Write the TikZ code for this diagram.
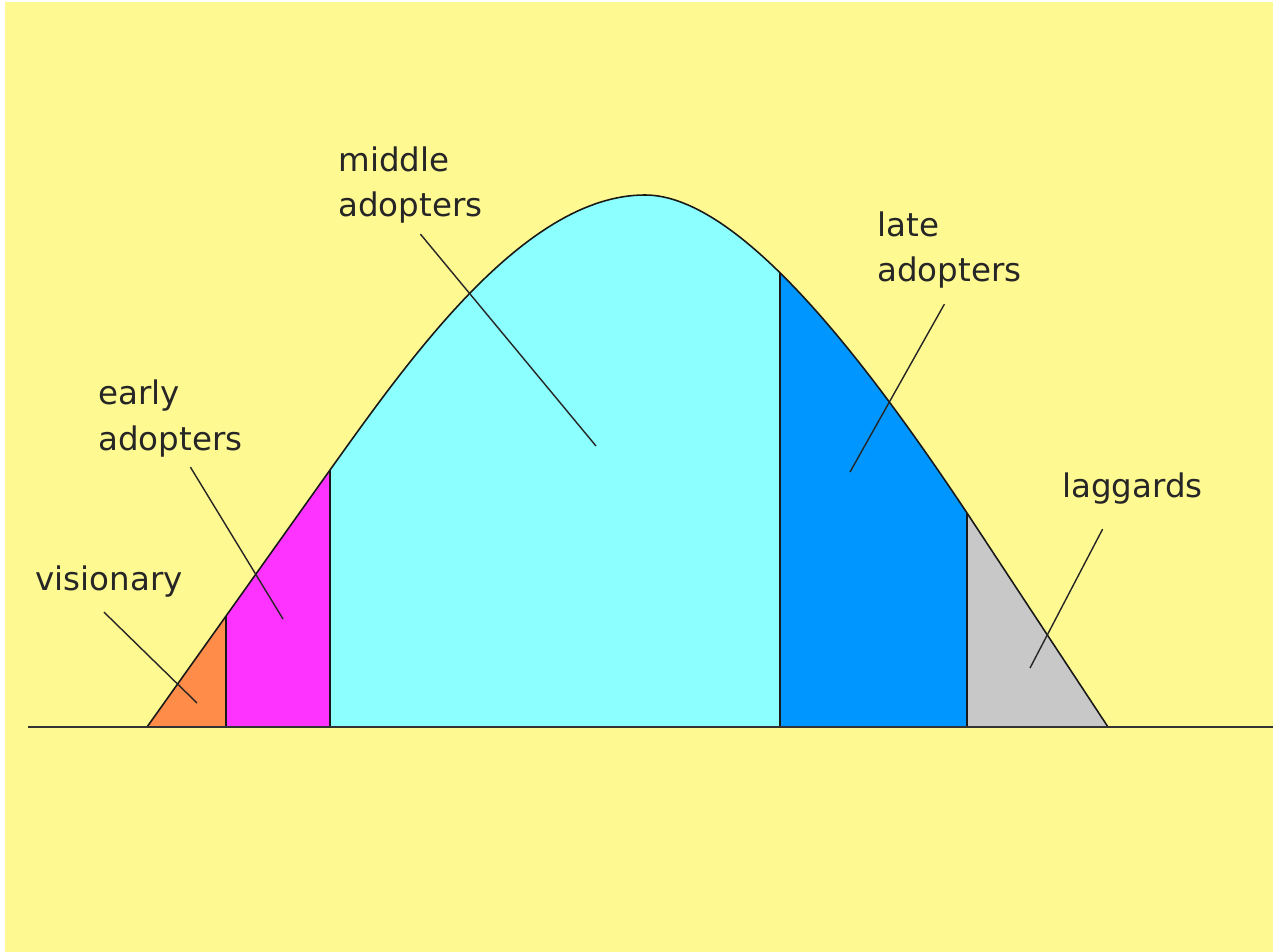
\documentclass[tikz,border=0pt]{standalone}
\usepackage{fontspec}
\setmainfont{DejaVu Sans}
\usepackage{color}
\definecolor{paperyellow}{RGB}{255,249,145}
\definecolor{visorange}{RGB}{255,140,72}
\definecolor{earlypink}{RGB}{255,51,255}
\definecolor{middlecyan}{RGB}{140,255,255}
\definecolor{lateblue}{RGB}{0,150,255}
\definecolor{laggray}{RGB}{200,200,200}
\newcommand{\bellcurve}{(147,727) -- (330,470) .. controls (410,358) and (525,195)
  .. (645,195) .. controls (740,195) and (867,363) .. (967,513) -- (1108,727)}

\tikzset{
  curvelabel/.style={anchor=base west,inner sep=0pt,align=left,
    font=\fontsize{18.5}{26}\selectfont,text=black!85},
  pointer/.style={draw=black!85,line width=0.8pt}
}

\begin{document}
\begin{tikzpicture}[x=0.02cm,y=-0.02cm]
      \useasboundingbox (0,0) rectangle (1273,952);
      \fill[white] (0,0) rectangle (1273,952);
      \fill[paperyellow] (5,2) rectangle (1273,952);

      \begin{scope}
        \clip \bellcurve -- cycle;
        \fill[visorange] (140,740) rectangle (226,150);
        \fill[earlypink] (226,740) rectangle (330,150);
        \fill[middlecyan] (330,740) rectangle (780,150);
        \fill[lateblue] (780,740) rectangle (967,150);
        \fill[laggray] (967,740) rectangle (1120,150);
        \foreach \cut in {226,330,780,967}
          \draw[line width=1pt,black!90] (\cut,727) -- (\cut,150);
      \end{scope}
      \draw[line width=0.9pt,black!90,line join=round] \bellcurve;
      \draw[line width=1.2pt,black!80] (28,727) -- (1273,727);

      \node[curvelabel] (visionary) at (35,590) {visionary};
      \node[curvelabel] (early) at (98,450) {early\\adopters};
      \node[curvelabel] (middle) at (338,217) {middle\\adopters};
      \node[curvelabel] (late) at (877,282) {late\\adopters};
      \node[curvelabel] (laggards) at (1062,497) {laggards};

      \coordinate (vistip) at (197,703);
      \coordinate (earlytip) at (283,619);
      \coordinate (middletip) at (596,446);
      \coordinate (latetip) at (850,472);
      \coordinate (lagtip) at (1030,668);

      \draw[pointer] ([xshift=-0.1cm,yshift=-0.3cm]visionary.south) -- (vistip);
      \draw[pointer] ([xshift=0.4cm,yshift=-0.2cm]early.south) -- (earlytip);
      \draw[pointer] ([xshift=0.2cm,yshift=-0.2cm]middle.south) -- (middletip);
      \draw[pointer] ([xshift=-0.1cm,yshift=-0.3cm]late.south) -- (latetip);
      \draw[pointer] ([xshift=-0.6cm,yshift=-0.5cm]laggards.south) -- (lagtip);
    \end{tikzpicture}
\end{document}
